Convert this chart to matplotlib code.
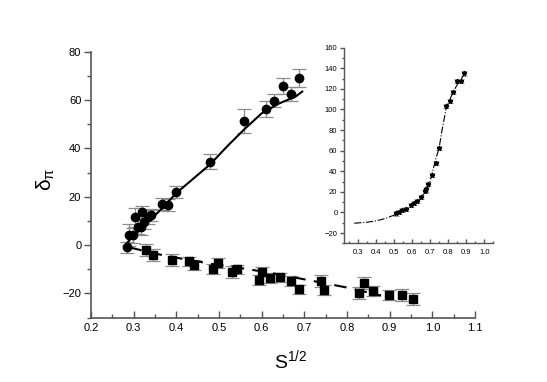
import matplotlib
matplotlib.use("Agg")
import matplotlib.pyplot as plt
from matplotlib.ticker import MultipleLocator

plt.rcParams["font.family"] = ["Liberation Sans", "DejaVu Sans"]

# main panel: circles (upper branch)
circ_x = [0.284, 0.289, 0.298, 0.302, 0.310, 0.318, 0.320, 0.324, 0.334, 0.341,
          0.367, 0.380, 0.399, 0.479, 0.559, 0.609, 0.630, 0.649, 0.669, 0.688]
circ_y = [-1.0, 4.0, 4.0, 11.5, 7.6, 7.3, 13.8, 9.5, 11.5, 12.4,
          16.8, 16.4, 21.8, 34.5, 51.2, 56.4, 59.8, 65.8, 62.5, 69.0]
circ_err = [2.4, 4.5, 3.0, 4.0, 3.0, 3.0, 2.5, 3.0, 3.0, 2.5,
            2.5, 2.5, 2.5, 3.0, 5.0, 3.3, 2.8, 3.2, 2.9, 3.7]

# main panel: squares (lower branch)
sq_x = [0.328, 0.346, 0.390, 0.430, 0.441, 0.485, 0.498, 0.530, 0.543, 0.594,
        0.600, 0.619, 0.644, 0.669, 0.688, 0.739, 0.746, 0.828, 0.840, 0.860,
        0.898, 0.929, 0.955]
sq_y = [-1.9, -4.1, -6.2, -6.8, -8.3, -9.8, -7.5, -11.2, -10.1, -14.5,
        -11.0, -13.7, -13.4, -14.8, -18.4, -14.9, -18.6, -20.0, -15.9, -19.0,
        -20.7, -20.6, -22.4]
sq_err = [2.5, 2.5, 2.5, 2.0, 2.0, 2.0, 2.0, 2.5, 2.0, 2.0,
          2.0, 2.0, 2.0, 2.0, 2.0, 2.5, 2.0, 2.5, 2.5, 2.0,
          2.0, 2.5, 2.5]

# fit curves
fit_circ_x = [0.285, 0.30, 0.33, 0.36, 0.40, 0.44, 0.48, 0.52, 0.56, 0.60, 0.64, 0.68, 0.695]
fit_circ_y = [1.0, 4.0, 9.0, 14.0, 21.5, 27.5, 33.5, 41.0, 48.0, 54.5, 58.5, 61.5, 63.5]
fit_sq_x = [0.29, 0.36, 0.42, 0.49, 0.55, 0.62, 0.70, 0.80, 0.88]
fit_sq_y = [-1.0, -3.9, -5.9, -8.0, -9.5, -11.5, -14.2, -17.6, -20.9]

# inset
ins_x = [0.509, 0.529, 0.547, 0.565, 0.593, 0.609, 0.628, 0.651, 0.670, 0.679,
         0.688, 0.710, 0.730, 0.750, 0.789, 0.811, 0.829, 0.847, 0.871, 0.890]
ins_y = [-1.0, 0.0, 2.3, 2.9, 7.2, 9.1, 10.7, 15.2, 21.0, 22.3,
         27.7, 36.4, 47.8, 63.0, 103.0, 108.0, 116.7, 127.7, 128.0, 135.0]
ins_err = [2.0] * len(ins_x)
ins_fit_x = [0.28, 0.35, 0.40, 0.45, 0.51, 0.55, 0.59, 0.62, 0.65, 0.68, 0.70,
             0.73, 0.75, 0.77, 0.79, 0.81, 0.83, 0.85, 0.87, 0.89]
ins_fit_y = [-10.5, -9.5, -8.3, -6.0, -2.0, 1.5, 5.0, 9.0, 14.0, 22.0, 30.0,
             51.0, 63.0, 84.0, 102.0, 110.0, 118.0, 124.0, 129.0, 134.5]

spine_col = "#555555"
err_col = "#8c8c8c"


def style_axes(ax, labelsize, ticklen):
    for s in ("top", "right"):
        ax.spines[s].set_visible(False)
    for s in ("left", "bottom"):
        ax.spines[s].set_color(spine_col)
        ax.spines[s].set_linewidth(1.2)
    ax.tick_params(axis="y", which="both", direction="out", color=spine_col,
                   labelsize=labelsize, pad=2)
    ax.tick_params(axis="x", which="both", direction="in", color=spine_col,
                   labelsize=labelsize, pad=4)
    ax.tick_params(which="major", length=ticklen, width=1.0)
    ax.tick_params(which="minor", length=ticklen * 0.6, width=1.0)


fig = plt.figure(figsize=(5.47, 3.82), dpi=100)
ax = fig.add_axes([0.1664, 0.1688, 0.702, 0.6959])

ax.errorbar(circ_x, circ_y, yerr=circ_err, fmt="o", color="black", ms=6,
            ecolor=err_col, elinewidth=0.9, capsize=5, capthick=0.9)
ax.errorbar(sq_x, sq_y, yerr=sq_err, fmt="s", color="black", ms=5.5,
            ecolor=err_col, elinewidth=0.9, capsize=5, capthick=0.9)
ax.plot(fit_circ_x, fit_circ_y, "-", color="black", lw=1.5)
ax.plot(fit_sq_x, fit_sq_y, color="black", lw=1.5, dashes=(6, 4))

ax.set_xlim(0.2, 1.1)
ax.set_ylim(-30, 80)
ax.xaxis.set_major_locator(MultipleLocator(0.1))
ax.xaxis.set_minor_locator(MultipleLocator(0.05))
ax.yaxis.set_major_locator(MultipleLocator(20))
ax.yaxis.set_minor_locator(MultipleLocator(10))
ax.set_xticklabels([f"{v:.1f}" for v in ax.get_xticks()])
style_axes(ax, 8, 5)

fig.text(0.532, 0.055, r"S$^{\mathregular{1/2}}$", fontsize=14, ha="center",
         va="center")
fig.text(0.083, 0.53, r"$\mathregular{\delta_\pi}$", fontsize=15, rotation=90,
         ha="center", va="center")

# inset
ins = fig.add_axes([0.6295, 0.3631, 0.2724, 0.512])
ins.errorbar(ins_x, ins_y, yerr=ins_err, fmt="*", color="black", ms=3.5,
             ecolor=err_col, elinewidth=0.6, capsize=2, capthick=0.6)
ins.plot(ins_fit_x, ins_fit_y, color="black", lw=0.8, linestyle="-.")
ins.set_xlim(0.225, 1.05)
ins.set_ylim(-30, 160)
ins.set_xticks([0.3, 0.4, 0.5, 0.6, 0.7, 0.8, 0.9, 1.0])
ins.set_xticklabels(["0.3", "0.4", "0.5", "0.6", "0.7", "0.8", "0.9", "1.0"])
ins.xaxis.set_minor_locator(MultipleLocator(0.05))
ins.yaxis.set_major_locator(MultipleLocator(20))
ins.yaxis.set_minor_locator(MultipleLocator(10))
style_axes(ins, 5.5, 3)
for s in ("left", "bottom"):
    ins.spines[s].set_linewidth(1.0)

fig.savefig("out.png", dpi=100)
